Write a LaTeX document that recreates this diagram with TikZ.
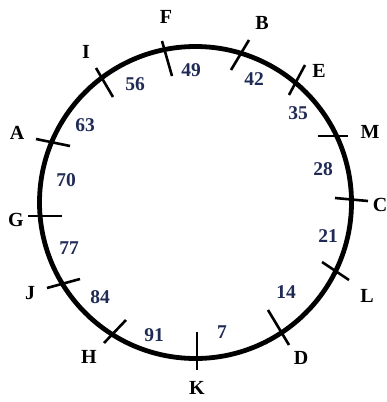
\documentclass[tikz,border=0pt]{standalone}
\usepackage{fontspec}
\setmainfont{Liberation Serif}
\definecolor{numblue}{HTML}{1F2A55}
\begin{document}
\begin{tikzpicture}[x=1pt,y=-1pt,
  ring/.style={line width=4.8pt},
  tickmark/.style={line width=2.6pt},
  lbl/.style={font=\fontsize{20}{20}\selectfont\bfseries, inner sep=0pt},
  num/.style={font=\fontsize{19.5}{19.5}\selectfont\bfseries, text=numblue, inner sep=0pt}]
\useasboundingbox (0,0) rectangle (386,402);
\draw[ring] (195.5,202.5) circle[radius=156];
% ticks
\coordinate (k1) at (197,332); \coordinate (k2) at (197,370);
\coordinate (h1) at (104,343); \coordinate (h2) at (126,320);
\coordinate (j1) at (47,288); \coordinate (j2) at (80,279);
\coordinate (g1) at (28,216); \coordinate (g2) at (62,216);
\coordinate (a1) at (36,139); \coordinate (a2) at (70,146);
\coordinate (i1) at (96,68); \coordinate (i2) at (113,97);
\coordinate (f1) at (162,41); \coordinate (f2) at (172,76);
\coordinate (b1) at (249,40); \coordinate (b2) at (231,70);
\coordinate (e1) at (305,65); \coordinate (e2) at (289,95);
\coordinate (m1) at (318,136); \coordinate (m2) at (348,136);
\coordinate (c1) at (335,198); \coordinate (c2) at (368,201);
\coordinate (l1) at (322,262); \coordinate (l2) at (349,280);
\coordinate (d1) at (268,310); \coordinate (d2) at (289,345);
\foreach \t in {k,h,j,g,a,i,f,b,e,m,c,l,d}
  \draw[tickmark] (\t1) -- (\t2);
% letters
\node[lbl] (F) at (166,17) {F};
\node[lbl] (B) at (262,23) {B};
\node[lbl] (E) at (319,71) {E};
\node[lbl] (I) at (86,52) {I};
\node[lbl] (A) at (17,133) {A};
\node[lbl] (M) at (370,132) {M};
\node[lbl] (C) at (380,205) {C};
\node[lbl] (G) at (16,220) {G};
\node[lbl] (J) at (30,293) {J};
\node[lbl] (H) at (89,357) {H};
\node[lbl] (K) at (197,388) {K};
\node[lbl] (D) at (301,358) {D};
\node[lbl] (L) at (367,296) {L};
% numbers
\node[num] (n49) at (191,70) {49};
\node[num] (n42) at (254,79) {42};
\node[num] (n35) at (298,113) {35};
\node[num] (n56) at (135,84) {56};
\node[num] (n63) at (85,125) {63};
\node[num] (n70) at (66,180) {70};
\node[num] (n28) at (323,169) {28};
\node[num] (n77) at (69,248) {77};
\node[num] (n21) at (328,236) {21};
\node[num] (n84) at (100,297) {84};
\node[num] (n14) at (286,292) {14};
\node[num] (n91) at (154,335) {91};
\node[num] (n7) at (222,332) {7};
\end{tikzpicture}
\end{document}
